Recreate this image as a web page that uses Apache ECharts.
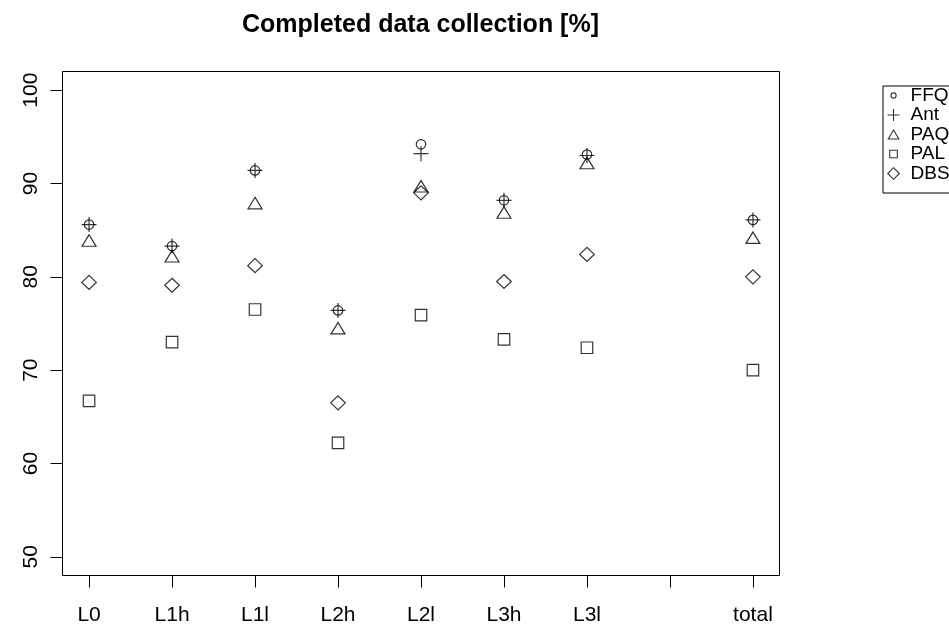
<!DOCTYPE html>
<html><head><meta charset="utf-8">
<script src="https://cdn.jsdelivr.net/npm/echarts@6/dist/echarts.min.js"></script>
<style>html,body{margin:0;padding:0;background:#fff}#c{width:949px;height:628px}</style>
</head><body><div id="c"></div>
<script>
const categories = ['L0','L1h','L1l','L2h','L2l','L3h','L3l','','total'];
const yTicks = [50,60,70,80,90,100];
const seriesNames = ['FFQ','Ant','PAQ','PAL','DBS'];
const FFQ = [85.6,83.3,91.4,76.4,94.2,88.2,93.1,null,86.1];
const Ant = [85.6,83.3,91.4,76.4,93.2,88.2,93.0,null,86.1];
const PAQ = [83.9,82.2,87.9,74.5,89.7,86.9,92.2,null,84.2];
const PAL = [66.7,73.0,76.5,62.2,75.9,73.3,72.4,null,70.0];
const DBS = [79.4,79.1,81.2,66.5,89.0,79.5,82.4,null,80.0];

const FONT = 'Liberation Sans, Arial, sans-serif';
const xPos = categories.map((c,i)=>i+1);
function pts(vals){ return vals.map((v,i)=>[i+1,v]).filter(d=>d[1]!=null); }
const stroke = {color:'rgba(0,0,0,0)', borderColor:'#000', borderWidth:1.2};

const sym = {
  FFQ:{symbol:'circle', size:9.5},
  Ant:{symbol:'path://M0,7L14,7M7,0L7,14', size:15},
  PAQ:{symbol:'triangle', size:[14,11.5]},
  PAL:{symbol:'rect', size:11.5},
  DBS:{symbol:'diamond', size:[14.6,14]}
};
const legendIcons = {
  FFQ:'path://M0,0M14,14M9.6,7A2.6,2.6,0,1,1,4.4,7A2.6,2.6,0,1,1,9.6,7Z',
  Ant:'path://M0,0M14,14M7,1L7,13M1,7L13,7',
  PAQ:'path://M0,0M14,14M7,2.5L12.3,11.5L1.7,11.5Z',
  PAL:'path://M0,0M14,14M3.2,3.2L10.8,3.2L10.8,10.8L3.2,10.8Z',
  DBS:'path://M0,0M14,14M7,1.2L12.8,7L7,12.8L1.2,7Z'
};
const dataMap = {FFQ, Ant, PAQ, PAL, DBS};

const chart = echarts.init(document.getElementById('c'), null, {renderer:'canvas'});
chart.setOption({
  animation:false,
  backgroundColor:'#fff',
  title:{text:'Completed data collection [%]', left:420.5, top:13, padding:0, textAlign:'center',
    textStyle:{fontFamily:FONT, fontSize:25, fontWeight:'bold', color:'#000'}},
  legend:{
    orient:'vertical', left:883, top:86, padding:[0,40,10,3],
    borderColor:'#000', borderWidth:1, borderRadius:0,
    itemWidth:14, itemHeight:14, itemGap:0.5, selectedMode:false,
    itemStyle:{color:'rgba(0,0,0,0)', borderColor:'#000', borderWidth:1.1},
    textStyle:{fontFamily:FONT, fontSize:19, color:'#000', padding:[0,0,0,5]},
    data: seriesNames.map(n=>({name:n, icon:legendIcons[n]}))
  },
  grid:{left:62.5, top:71.5, width:717, height:504, show:true, borderColor:'#000', borderWidth:1, containLabel:false},
  xAxis:{type:'value', min:0.68, max:9.32,
    axisLine:{show:false}, splitLine:{show:false},
    axisTick:{show:true, inside:false, length:12, customValues:xPos, lineStyle:{color:'#000', width:1}},
    axisLabel:{customValues:xPos, margin:29, fontFamily:FONT, fontSize:21, color:'#000',
      formatter:v=>categories[Math.round(v)-1]}
  },
  yAxis:{type:'value', min:48, max:102,
    axisLine:{show:false}, splitLine:{show:false},
    axisTick:{show:true, inside:false, length:12, customValues:yTicks, lineStyle:{color:'#000', width:1}},
    axisLabel:{customValues:yTicks, rotate:90, margin:21, fontFamily:FONT, fontSize:21, color:'#000'}
  },
  series: seriesNames.map(n=>({
    name:n, type:'scatter', data:pts(dataMap[n]),
    symbol:sym[n].symbol, symbolSize:sym[n].size,
    itemStyle:stroke, emphasis:{disabled:true}, silent:true
  }))
});
</script></body></html>
